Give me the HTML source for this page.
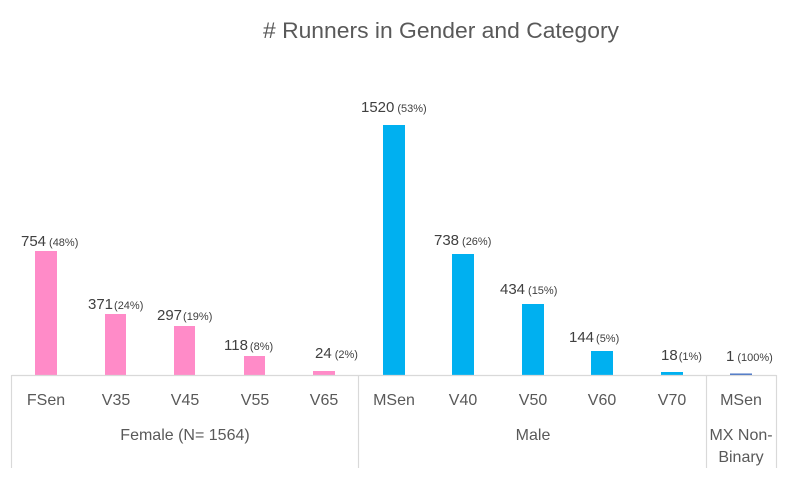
<!DOCTYPE html>
<html><head><style>
body{margin:0;background:#fff;}
svg{display:block;font-family:"Liberation Sans",sans-serif;}
</style></head><body>
<svg width="787" height="502" viewBox="0 0 787 502">
<rect width="787" height="502" fill="#fff"/>
<text x="441" y="38" font-size="22" fill="#595959" text-anchor="middle" textLength="356" lengthAdjust="spacingAndGlyphs">#  Runners in Gender and Category</text>
<g fill="#FF8BC8">
<rect x="35" y="251" width="22" height="124"/>
<rect x="105" y="314" width="21" height="61"/>
<rect x="174" y="326" width="21" height="49"/>
<rect x="244" y="356" width="21" height="19"/>
<rect x="313" y="371" width="22" height="4"/>
</g>
<g fill="#00B0F0">
<rect x="383" y="125" width="22" height="250"/>
<rect x="452" y="254" width="22" height="121"/>
<rect x="522" y="304" width="22" height="71"/>
<rect x="591" y="351" width="22" height="24"/>
<rect x="661" y="372" width="22" height="3"/>
</g>
<rect x="730" y="373.5" width="22" height="1.5" fill="#4472C4"/>
<g stroke="#D9D9D9" stroke-width="1.2" fill="none">
<line x1="11.5" y1="375.5" x2="776.5" y2="375.5"/>
<line x1="11.5" y1="375" x2="11.5" y2="468"/>
<line x1="358.5" y1="375" x2="358.5" y2="468"/>
<line x1="706.5" y1="375" x2="706.5" y2="468"/>
<line x1="776.5" y1="375" x2="776.5" y2="468"/>
</g>
<g font-size="15" fill="#404040">
<text x="21" y="246">754<tspan font-size="11" dx="3">(48%)</tspan></text>
<text x="88" y="309">371<tspan font-size="11" dx="1">(24%)</tspan></text>
<text x="157" y="320">297<tspan font-size="11" dx="1">(19%)</tspan></text>
<text x="224" y="350">118<tspan font-size="11" dx="2">(8%)</tspan></text>
<text x="315" y="358">24<tspan font-size="11" dx="3">(2%)</tspan></text>
<text x="361" y="112">1520<tspan font-size="11" dx="3">(53%)</tspan></text>
<text x="434" y="245">738<tspan font-size="11" dx="3">(26%)</tspan></text>
<text x="500" y="294">434<tspan font-size="11" dx="3">(15%)</tspan></text>
<text x="569" y="342">144<tspan font-size="11" dx="2">(5%)</tspan></text>
<text x="661" y="360">18<tspan font-size="11" dx="1">(1%)</tspan></text>
<text x="726" y="361">1<tspan font-size="11" dx="3">(100%)</tspan></text>
</g>
<g font-size="16" fill="#595959" text-anchor="middle">
<text x="46" y="405">FSen</text>
<text x="116" y="405">V35</text>
<text x="185" y="405">V45</text>
<text x="255" y="405">V55</text>
<text x="324" y="405">V65</text>
<text x="394" y="405">MSen</text>
<text x="463" y="405">V40</text>
<text x="533" y="405">V50</text>
<text x="602" y="405">V60</text>
<text x="672" y="405">V70</text>
<text x="741" y="405">MSen</text>
<text x="185" y="440">Female (N= 1564)</text>
<text x="533" y="440">Male</text>
<text x="741" y="440">MX Non-</text>
<text x="741" y="462">Binary</text>
</g>
</svg>
</body></html>
